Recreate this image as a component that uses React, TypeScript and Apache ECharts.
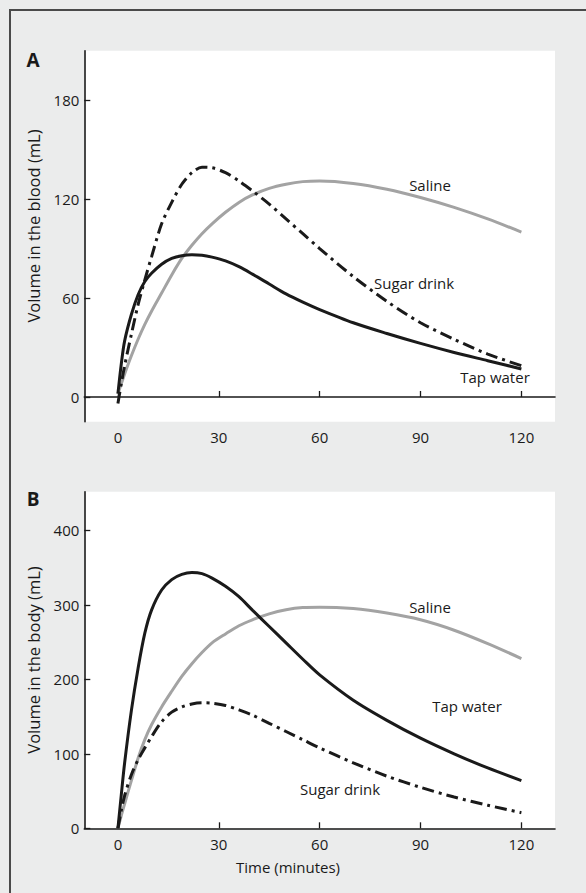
import { useEffect, useRef } from "react";
import * as echarts from "echarts";

// Time points (minutes) shared by every curve
const minutes = [0, 1, 2, 4, 6, 8, 10, 13, 16, 19, 22, 25, 28, 32, 36, 40, 45, 50, 55, 60, 70, 80, 90, 100, 110, 120];

// Panel A: volume in the blood (mL)
const bloodTapWater = [2, 20, 34, 50, 62, 70, 75, 80.5, 84, 85.7, 86.3, 86, 84.8, 82.5, 79, 74.5, 68.5, 62.5, 57.5, 53, 45, 38.5, 32.5, 27, 22, 17];
const bloodSugarDrink = [-4, 8, 19, 38, 56, 71, 85, 105, 118, 129, 136, 139.3, 139, 136, 131, 125, 117, 108, 99, 90, 73, 58, 45, 35, 26, 19];
const bloodSaline = [2, 8, 14, 25, 35, 44, 52, 63, 74, 84, 92, 99, 105, 112, 118, 122.5, 126.5, 129, 130.6, 131, 129.5, 126, 121, 115, 108, 100];

// Panel B: volume in the body (mL)
const bodyTapWater = [0, 45, 88, 158, 215, 262, 293, 320, 334, 341, 343.5, 342, 336, 325, 311, 293, 271, 249, 227, 206, 172, 145, 121, 100, 81, 64];
const bodySugarDrink = [0, 24, 44, 72, 92, 108, 123, 143, 156, 163, 167, 168.5, 168, 165, 159, 152, 141, 130, 119, 108, 88, 70, 55, 42, 31, 21];
const bodySaline = [0, 17, 33, 64, 94, 119, 139, 163, 184, 204, 221, 236, 249, 261, 272, 280, 288, 293.5, 296.5, 297, 295, 289, 280, 266, 248, 228];

// Tick labels
const timeTicks = [0, 30, 60, 90, 120];
const bloodTicks = [0, 60, 120, 180];
const bodyTicks = [0, 100, 200, 300, 400];

const FONT = "Open Sans";
const INK = "#1a1a1a";
const GREY_LINE = "#a3a3a3";
const DASH_DOT = [12, 5, 3, 5];

const pairs = (ys: number[]) => minutes.map((t, i) => [t, ys[i]]);

function App() {
  const ref = useRef<HTMLDivElement>(null);

  useEffect(() => {
    if (!ref.current) return;
    const chart = echarts.init(ref.current, undefined, { renderer: "svg" });

    const xAxisBase = (gridIndex: number) => ({
      type: "value" as const,
      gridIndex,
      min: -10,
      max: 130,
      axisLine: { show: true, lineStyle: { color: INK, width: 1.6 } },
      axisTick: {
        show: true,
        inside: true,
        length: 6,
        lineStyle: { color: INK, width: 1.3 },
        customValues: timeTicks,
      },
      axisLabel: {
        show: true,
        color: INK,
        fontFamily: FONT,
        fontSize: 15,
        margin: 8,
        customValues: timeTicks,
      },
      splitLine: { show: false },
    });

    const yAxisBase = (gridIndex: number, min: number, max: number, ticks: number[]) => ({
      type: "value" as const,
      gridIndex,
      min,
      max,
      axisLine: { show: true, onZero: false, lineStyle: { color: INK, width: 1.6 } },
      axisTick: {
        show: true,
        inside: true,
        length: 6,
        lineStyle: { color: INK, width: 1.3 },
        customValues: ticks,
      },
      axisLabel: {
        show: true,
        color: INK,
        fontFamily: FONT,
        fontSize: 15,
        margin: 5,
        customValues: ticks,
      },
      splitLine: { show: false },
    });

    const line = (
      name: string,
      data: number[],
      axisIndex: number,
      color: string,
      dashed: boolean
    ) => ({
      type: "line" as const,
      name,
      xAxisIndex: axisIndex,
      yAxisIndex: axisIndex,
      data: pairs(data),
      smooth: 0.3,
      symbol: "none",
      lineStyle: {
        color,
        width: 3,
        type: dashed ? DASH_DOT : "solid",
        cap: "butt",
      },
      z: color === GREY_LINE ? 2 : 3,
    });

    const label = (text: string, x: number, y: number, extra: any = {}) => ({
      type: "text",
      x,
      y,
      style: {
        text,
        fill: INK,
        font: `15px "${FONT}"`,
        textAlign: "center",
        textVerticalAlign: "middle",
        ...extra,
      },
      z: 10,
    });

    const axisTitle = (text: string, x: number, y: number) => ({
      type: "text",
      x,
      y,
      rotation: Math.PI / 2,
      style: {
        text,
        fill: INK,
        font: `16.5px "${FONT}"`,
        textAlign: "center",
        textVerticalAlign: "middle",
      },
    });

    chart.setOption({
      animation: false,
      backgroundColor: "#ebecec",
      grid: [
        {
          left: 84.3,
          top: 50.7,
          width: 470.7,
          height: 371,
          show: true,
          backgroundColor: "#ffffff",
          borderWidth: 0,
        },
        {
          left: 84.3,
          top: 491.7,
          width: 470.7,
          height: 336.6,
          show: true,
          backgroundColor: "#ffffff",
          borderWidth: 0,
        },
      ],
      xAxis: [xAxisBase(0), xAxisBase(1)],
      yAxis: [yAxisBase(0, -15, 210, bloodTicks), yAxisBase(1, 0, 452, bodyTicks)],
      series: [
        line("Saline", bloodSaline, 0, GREY_LINE, false),
        line("Tap water", bloodTapWater, 0, INK, false),
        line("Sugar drink", bloodSugarDrink, 0, INK, true),
        line("Saline", bodySaline, 1, GREY_LINE, false),
        line("Tap water", bodyTapWater, 1, INK, false),
        line("Sugar drink", bodySugarDrink, 1, INK, true),
      ],
      graphic: [
        {
          type: "rect",
          shape: { x: 10, y: 10, width: 600, height: 900 },
          style: { fill: "none", stroke: "#4a4a4a", lineWidth: 2 },
          z: 0,
        },
        label("A", 33, 60, { font: `bold 19px "${FONT}"` }),
        label("B", 33, 499, { font: `bold 19px "${FONT}"` }),
        axisTitle("Volume in the blood (mL)", 33, 226),
        axisTitle("Volume in the body (mL)", 33, 660),
        label("Time (minutes)", 288, 867),
        label("Saline", 430, 185),
        label("Sugar drink", 414, 283),
        label("Tap water", 495, 377),
        label("Saline", 430, 607),
        label("Tap water", 467, 706),
        label("Sugar drink", 340, 789),
      ],
    });

    return () => chart.dispose();
  }, []);

  return (
    <div
      ref={ref}
      style={{ position: "absolute", left: 0, top: 0, width: 586, height: 893 }}
    />
  );
}

export default App;
